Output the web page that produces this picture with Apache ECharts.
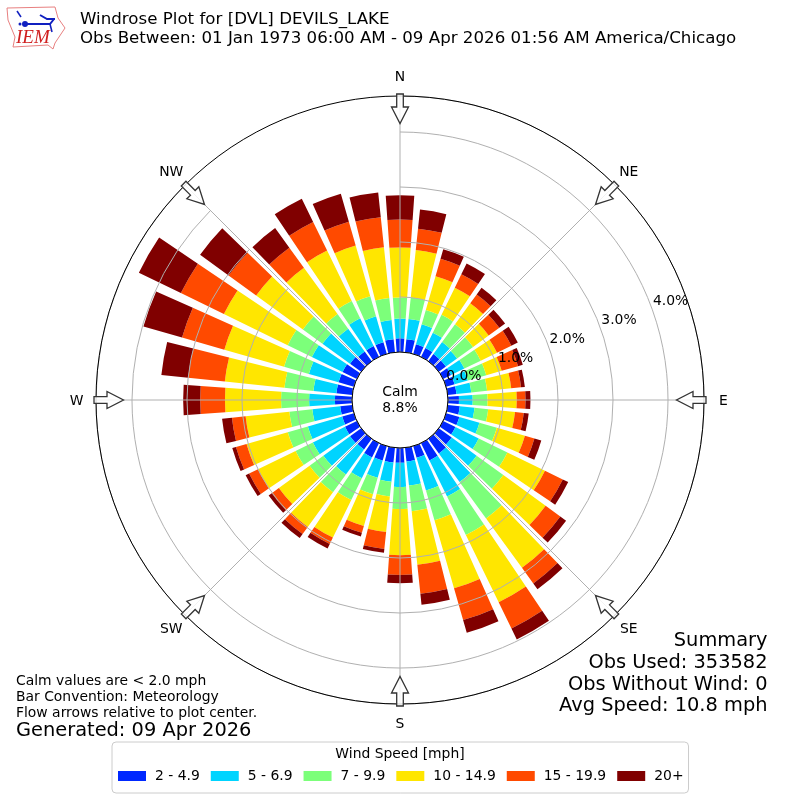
<!DOCTYPE html>
<html>
<head>
<meta charset="utf-8">
<style>html,body{margin:0;padding:0;background:#fff}#c{width:800px;height:800px}</style>
<script src="https://cdn.jsdelivr.net/npm/echarts@6/dist/echarts.min.js"></script>
</head>
<body>
<div id="c"></div>
<script>
const directions = Array.from({length:36},(_,i)=>String(i*10));
const compass = ['N','NE','E','SE','S','SW','W','NW'];
const speedBins = ['2 - 4.9','5 - 6.9','7 - 9.9','10 - 14.9','15 - 19.9','20+'];
const binColors = ['#0028ff','#00d4ff','#7cff7a','#ffe600','#ff4a00','#800000'];
const bin1 = [.25,.24,.18,.18,.16,.16,.16,.16,.16,.20,.22,.25,.25,.29,.33,.35,.22,.25,.27,.27,.27,.29,.24,.25,.24,.22,.22,.31,.29,.29,.29,.25,.22,.22,.22,.24];
const bin2 = [.36,.37,.38,.31,.27,.25,.27,.25,.27,.25,.27,.38,.47,.56,.64,.73,.62,.44,.44,.35,.33,.42,.56,.60,.65,.65,.51,.47,.42,.56,.62,.62,.51,.56,.49,.35];
const bin3 = [.38,.39,.27,.36,.40,.36,.33,.35,.29,.27,.25,.33,.58,.60,.82,.78,.56,.47,.40,.27,.31,.44,.40,.31,.35,.38,.42,.51,.53,.47,.49,.44,.33,.35,.38,.40];
const bin4 = [.91,.87,.64,.55,.47,.35,.33,.29,.44,.53,.49,.53,.76,.95,1.11,1.36,1.29,.98,.84,.65,.60,.76,.78,.69,.76,.78,.80,1.02,1.09,1.13,1.29,1.05,1.04,1.02,.96,.93];
const bin5 = [.51,.39,.33,.27,.20,.24,.29,.31,.18,.16,.16,.18,.36,.33,.35,.53,.60,.53,.36,.31,.13,.13,.16,.16,.18,.20,.25,.45,.67,.80,.87,.62,.45,.58,.45,.55];
const bin6 = [.44,.35,.18,.22,.15,.13,.13,.09,.07,.09,.09,.13,.11,.13,.13,.22,.24,.20,.15,.07,.07,.09,.09,.07,.07,.07,.18,.31,.49,.73,.85,.64,.44,.47,.53,.45];
const binValues = [bin1,bin2,bin3,bin4,bin5,bin6];
const rMax = 4.6545;
const F = 'DejaVu Sans';

const chart = echarts.init(document.getElementById('c'), null, {renderer:'canvas'});

function txt(x,y,text,size,align){
  return {type:'text',x,y,z:60,style:{text,font:size+'px "'+F+'"',fill:'#000',align:align||'left',verticalAlign:'middle'}};
}
function arrow(i){
  const pts=[[-3.3,-306],[3.3,-306],[3.3,-293],[8.5,-293],[0,-276.5],[-8.5,-293],[-3.3,-293]];
  return {type:'polygon',x:400,y:400,rotation:-i*Math.PI/4,z:40,
    shape:{points:pts},style:{fill:'rgba(255,255,255,0.85)',stroke:'#333',lineWidth:1.3}};
}
function compassLabel(name,i){
  const a=i*Math.PI/4, r=323.5;
  return txt(400+r*Math.sin(a),401-r*Math.cos(a),name,13.9,'center');
}
const logo=[
 {type:'polyline',z:50,shape:{points:[[7,8],[55,7],[58,18],[65,28],[55,43],[53,49],[48,45],[13,47],[15,37],[8,20],[7,8]]},style:{fill:'none',stroke:'#e88080',lineWidth:1}},
 {type:'polyline',z:51,shape:{points:[[25,24],[50,24],[54,19]]},style:{fill:'none',stroke:'#1020c0',lineWidth:2}},
 {type:'polyline',z:51,shape:{points:[[40,15],[47,19],[50,19],[55,19]]},style:{fill:'none',stroke:'#1020c0',lineWidth:2}},
 {type:'polyline',z:51,shape:{points:[[17,11],[21,17]]},style:{fill:'none',stroke:'#1020c0',lineWidth:1.5}},
 {type:'polyline',z:51,shape:{points:[[50,24],[52,32]]},style:{fill:'none',stroke:'#1020c0',lineWidth:1.5}},
 {type:'circle',z:51,shape:{cx:25,cy:24,r:3},style:{fill:'#1020c0'}},
 {type:'circle',z:51,shape:{cx:20,cy:24,r:1.5},style:{fill:'#1020c0'}},
 {type:'text',x:16,y:38,z:52,style:{text:'IEM',font:'italic 19px "Liberation Serif"',fill:'#d02020',verticalAlign:'middle'}}
];

const option = {
  animation:false,
  backgroundColor:'#fff',
  polar:[
    {center:[400,400],radius:[48,304]},
    {center:[400,400],radius:[48,304]},
    {center:[400,400],radius:[68,324]}
  ],
  angleAxis:[
    {polarIndex:0,type:'category',data:directions,boundaryGap:false,startAngle:90,clockwise:true,z:1,
     axisLine:{show:false},axisTick:{show:false},axisLabel:{show:false},splitLine:{show:false}},
    {polarIndex:1,type:'category',data:compass,boundaryGap:false,startAngle:90,clockwise:true,z:10,
     axisLine:{show:true,lineStyle:{color:'#000',width:1}},axisTick:{show:false},
     axisLabel:{show:false},
     splitLine:{show:true,lineStyle:{color:'#b0b0b0',width:1}}},
    {polarIndex:2,type:'category',data:compass,boundaryGap:false,startAngle:20,z:11,
     axisLine:{show:false},axisTick:{show:false},axisLabel:{show:false},splitLine:{show:false}}
  ],
  radiusAxis:[
    {polarIndex:0,min:0,max:rMax,interval:1,z:1,axisLine:{show:false},axisTick:{show:false},axisLabel:{show:false},splitLine:{show:false}},
    {polarIndex:1,min:0,max:rMax,interval:1,z:10,axisLine:{show:false},axisTick:{show:false},axisLabel:{show:false},
     splitLine:{show:true,lineStyle:{color:'#b0b0b0',width:1}}},
    {polarIndex:2,min:0,max:rMax,interval:1,z:11,axisLine:{show:false},axisTick:{show:false},splitLine:{show:false},
     axisLabel:{show:true,margin:0,align:'center',verticalAlign:'middle',color:'#000',fontFamily:F,fontSize:13.9,
       showMaxLabel:false,formatter:v=>Number.isInteger(v)?v.toFixed(1)+'%':''}}
  ],
  legend:{
    left:112,top:742,orient:'horizontal',icon:'rect',itemWidth:28,itemHeight:10,itemGap:11,
    padding:[27,5,10,6],borderColor:'#cccccc',borderWidth:1,borderRadius:4,backgroundColor:'#fff',
    data:speedBins,selectedMode:false,
    textStyle:{color:'#000',fontFamily:F,fontSize:13.9,padding:[0,4,0,4]}
  },
  series:speedBins.map((name,i)=>({
    name,type:'bar',coordinateSystem:'polar',polarIndex:0,stack:'wind',data:binValues[i],
    barCategoryGap:'20%',itemStyle:{color:binColors[i]},z:2,silent:true
  })),
  graphic:{elements:[
    ...logo,
    txt(80,19.5,'Windrose Plot for [DVL] DEVILS_LAKE',16.67),
    txt(80,38.5,'Obs Between: 01 Jan 1973 06:00 AM - 09 Apr 2026 01:56 AM America/Chicago',16.67),
    ...[0,1,2,3,4,5,6,7].map(arrow),
    ...compass.map(compassLabel),
    txt(400,392,'Calm',13.9,'center'),
    txt(400,408,'8.8%',13.9,'center'),
    txt(16,681,'Calm values are < 2.0 mph',13.9),
    txt(16,697,'Bar Convention: Meteorology',13.9),
    txt(16,713,'Flow arrows relative to plot center.',13.9),
    txt(16,731,'Generated: 09 Apr 2026',19.4),
    txt(767.5,641,'Summary',19.4,'right'),
    txt(767.5,663,'Obs Used: 353582',19.4,'right'),
    txt(767.5,684.5,'Obs Without Wind: 0',19.4,'right'),
    txt(767.5,706,'Avg Speed: 10.8 mph',19.4,'right'),
    txt(400,754,'Wind Speed [mph]',13.9,'center')
  ]}
};
chart.setOption(option);
</script>
</body>
</html>
